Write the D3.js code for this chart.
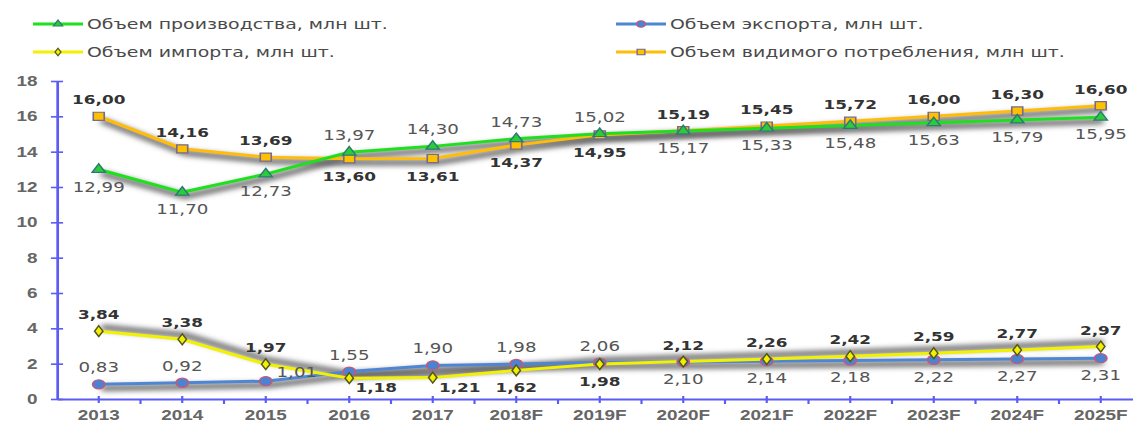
<!DOCTYPE html>
<html>
<head>
<meta charset="utf-8">
<script src="https://cdn.jsdelivr.net/npm/d3@7"></script>
<style>
  body { margin: 0; background: #fff; }
  svg { display: block; font-family: "DejaVu Sans", Verdana, sans-serif; }
</style>
</head>
<body>
<svg id="chart" width="1133" height="424"></svg>
<script>
//
// Data
//
const years = ['2013', '2014', '2015', '2016', '2017', '2018F', '2019F',
  '2020F', '2021F', '2022F', '2023F', '2024F', '2025F'];
const production = [12.99, 11.70, 12.73, 13.97, 14.30, 14.73, 15.02, 15.17, 15.33, 15.48, 15.63, 15.79, 15.95];
const exportVol = [0.83, 0.92, 1.01, 1.55, 1.90, 1.98, 2.06, 2.10, 2.14, 2.18, 2.22, 2.27, 2.31];
const importVol = [3.84, 3.38, 1.97, 1.18, 1.21, 1.62, 1.98, 2.12, 2.26, 2.42, 2.59, 2.77, 2.97];
const consumption = [16.00, 14.16, 13.69, 13.60, 13.61, 14.37, 14.95, 15.19, 15.45, 15.72, 16.00, 16.30, 16.60];
const yTicks = [0, 2, 4, 6, 8, 10, 12, 14, 16, 18];
const seriesNames = ['Объем производства, млн шт.', 'Объем экспорта, млн шт.',
  'Объем импорта, млн шт.', 'Объем видимого потребления, млн шт.'];

// which side of the point each value label sits on
const prodSide = ['b', 'b', 'b', 'a', 'a', 'a', 'a', 'b', 'b', 'b', 'b', 'b', 'b'];
const exportSide = ['a', 'a', 'r', 'a', 'a', 'a', 'a', 'b', 'b', 'b', 'b', 'b', 'b'];
const importSide = ['a', 'a', 'a', 'rb', 'rb', 'b', 'b', 'a', 'a', 'a', 'a', 'a', 'a'];
const consSide = ['a', 'a', 'a', 'b', 'b', 'b', 'b', 'a', 'a', 'a', 'a', 'a', 'a'];

//
// Configuration
//
// the source picture is stretched sideways, so is this one
const stretch = 1.35;
const axisColor = '#5b5bf5';
const tickText = '#666';
const series = [
  {name: seriesNames[0], values: production, side: prodSide, line: '#1fe01f', fill: '#2bcc3c', edge: '#2d7a70',
    symbol: d3.symbolTriangle, size: 42, bold: false, shadowDy: 4},
  {name: seriesNames[1], values: exportVol, side: exportSide, line: '#4f86d3', fill: '#4a83d4', edge: '#c45a78',
    symbol: d3.symbolCircle, size: 66, bold: false, shadowDy: 4},
  {name: seriesNames[2], values: importVol, side: importSide, line: '#f2f200', fill: '#f0f000', edge: '#55551c',
    symbol: d3.symbolDiamond, size: 34, bold: true, shadowDy: -4},
  {name: seriesNames[3], values: consumption, side: consSide, line: '#ffbd0a', fill: '#ffc000', edge: '#776a8c',
    symbol: d3.symbolSquare, size: 66, bold: true, shadowDy: 4}
];
const drawOrder = [3, 0, 1, 2];

//
// Scales
//
const svg = d3.select('#chart');
const g = svg.append('g').attr('transform', `scale(${stretch},1)`);

const x = d3.scaleBand()
    .domain(years)
    .range([57 / stretch, (57 + 13 * 83.5) / stretch]);
const y = d3.scaleLinear()
    .domain([0, 18])
    .range([399, 81]);
const cx = d => x(d) + x.bandwidth() / 2;

const defs = svg.append('defs');
defs.append('filter').attr('id', 'blur')
    .attr('x', '-10%').attr('y', '-50%').attr('width', '120%').attr('height', '200%')
  .append('feGaussianBlur').attr('stdDeviation', '2.2 2.6');

//
// Axes
//
const yAxis = g.append('g')
    .attr('transform', `translate(${57 / stretch},0)`)
    .call(d3.axisLeft(y).tickValues(yTicks).tickSizeOuter(0).tickSizeInner(0).tickPadding(14.5));
yAxis.select('.domain').attr('stroke', axisColor).attr('stroke-width', 2);
yAxis.selectAll('.tick line').attr('x1', -4.5).attr('x2', 4.5)
    .attr('stroke', axisColor).attr('stroke-width', 1.6);
yAxis.selectAll('.tick text')
    .attr('fill', tickText).attr('font-size', 14).attr('font-weight', 'bold');

const xAxis = g.append('g')
    .attr('transform', `translate(0,${y(0)})`)
    .call(d3.axisBottom(x).tickSizeOuter(0).tickSizeInner(0).tickPadding(11));
xAxis.select('.domain').attr('stroke', axisColor).attr('stroke-width', 2);
xAxis.selectAll('.tick line').attr('y1', -3).attr('y2', 4)
    .attr('stroke', axisColor).attr('stroke-width', 1.6);
xAxis.selectAll('.tick text')
    .attr('fill', tickText).attr('font-size', 14).attr('font-weight', 'bold');
xAxis.selectAll('.between')
    .data(years.slice(1))
    .join('line')
    .attr('x1', d => x(d)).attr('x2', d => x(d))
    .attr('y1', 0).attr('y2', 5)
    .attr('stroke', axisColor).attr('stroke-width', 1.6);

//
// Lines
//
const line = d3.line()
    .x((d, i) => cx(years[i]))
    .y(d => y(d));

drawOrder.forEach(k => {
  const s = series[k];
  g.append('path')
      .attr('d', line(s.values))
      .attr('transform', `translate(2,${s.shadowDy})`)
      .attr('fill', 'none')
      .attr('stroke', '#5e5e5e')
      .attr('stroke-opacity', 0.8)
      .attr('stroke-width', 6.5)
      .attr('filter', 'url(#blur)');
});

drawOrder.forEach(k => {
  const s = series[k];
  g.append('path')
      .attr('d', line(s.values))
      .attr('fill', 'none')
      .attr('stroke', s.line)
      .attr('stroke-width', 3)
      .attr('stroke-linejoin', 'round');
});

drawOrder.forEach(k => {
  const s = series[k];
  g.selectAll(null)
      .data(s.values)
      .join('path')
      .attr('d', d3.symbol().type(s.symbol).size(s.size))
      .attr('transform', (d, i) => `translate(${cx(years[i])},${y(d)})`)
      .attr('fill', s.fill)
      .attr('stroke', s.edge)
      .attr('stroke-width', 1.2);
});

//
// Value labels
//
const fmt = v => v.toFixed(2).replace('.', ',');
const offset = {
  a: [0, -12],
  b: [0, 22],
  r: [23, -4],
  rb: [20, 14]
};

series.forEach(s => {
  g.selectAll(null)
      .data(s.values)
      .join('text')
      .attr('x', (d, i) => cx(years[i]) + offset[s.side[i]][0])
      .attr('y', (d, i) => y(d) + offset[s.side[i]][1])
      .attr('text-anchor', 'middle')
      .attr('font-size', s.bold ? 12.5 : 13.5)
      .attr('font-weight', s.bold ? 'bold' : 'normal')
      .attr('fill', s.bold ? '#333' : '#555')
      .text(fmt);
});

//
// Legend
//
const legendPos = [[33, 24], [616, 24], [33, 52], [616, 52]];
series.forEach((s, k) => {
  const [lx, ly] = legendPos[k];
  const item = g.append('g').attr('transform', `translate(${lx / stretch},${ly})`);
  item.append('line')
      .attr('x1', 0).attr('x2', 50 / stretch)
      .attr('stroke', s.line).attr('stroke-width', 3);
  item.append('path')
      .attr('d', d3.symbol().type(s.symbol).size(s.size * 0.5))
      .attr('transform', `translate(${25 / stretch},0)`)
      .attr('fill', s.fill).attr('stroke', s.edge).attr('stroke-width', 1);
  item.append('text')
      .attr('x', 54 / stretch)
      .attr('dy', '0.35em')
      .attr('font-size', 14)
      .attr('fill', '#4a4a4a')
      .text(s.name);
});
</script>
</body>
</html>
